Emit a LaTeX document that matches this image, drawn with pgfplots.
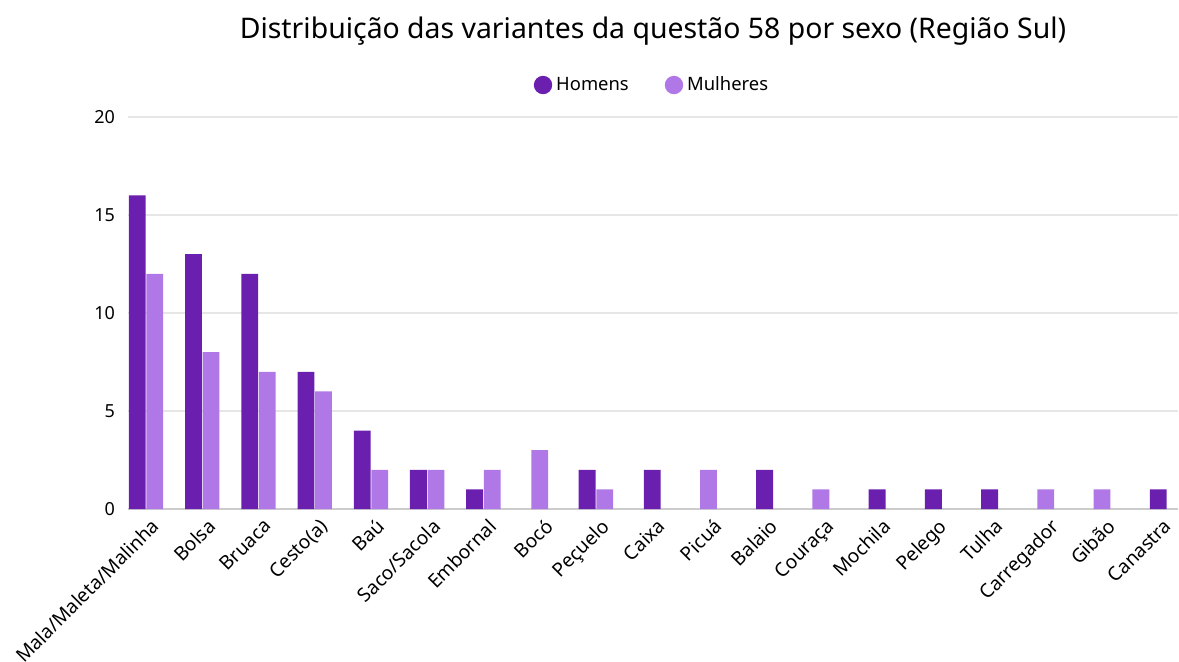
\documentclass[border=0pt]{standalone}
\usepackage{pgfplots}
\pgfplotsset{compat=1.18}
\usepackage{fontspec}
\setmainfont{Noto Sans}

\definecolor{homens}{RGB}{106,31,175}
\definecolor{mulheres}{RGB}{176,120,230}
\definecolor{gridc}{RGB}{230,230,230}

\begin{document}
\begin{tikzpicture}
\begin{axis}[
  scale only axis,
  width=525pt, height=196pt,
  ymin=0, ymax=20,
  xmin=-0.32, xmax=18.35,
  ytick={0,5,10,15,20},
  xtick={0,...,18},
  xticklabels={Mala/Maleta/Malinha,Bolsa,Bruaca,Cesto(a),Baú,Saco/Sacola,Embornal,Bocó,Peçuelo,Caixa,Picuá,Balaio,Couraça,Mochila,Pelego,Tulha,Carregador,Gibão,Canastra},
  xticklabel style={rotate=45, anchor=north east, font=\fontsize{9.6pt}{11pt}\selectfont, xshift=2pt, yshift=-1pt},
  yticklabel style={font=\fontsize{9pt}{10pt}\selectfont, xshift=-3pt},
  /pgf/number format/assume math mode=true,
  major tick length=0pt,
  axis line style={draw=none},
  ymajorgrids, grid style={gridc, line width=0.6pt},
  extra y ticks={0}, extra y tick labels={},
  extra y tick style={grid style={draw=black!20, line width=0.8pt}},
  ybar, bar width=8.4pt,
  title={Distribuição das variantes da questão 58 por sexo (Região Sul)},
  title style={at={(0.5,1)}, anchor=center, yshift=37pt, font=\fontsize{14.2pt}{16pt}\selectfont},
  legend style={at={(0.5,1)}, anchor=center, yshift=16pt, draw=none, fill=none,
    font=\fontsize{9.2pt}{10pt}\selectfont,
    /tikz/every even column/.append style={column sep=16pt}},
  legend columns=2,
  legend image code/.code={\fill[#1] (0pt,0pt) circle (4.6pt);},
]
\addplot[fill=homens, draw=none, bar shift=-4.4pt] coordinates {
(0,16) (1,13) (2,12) (3,7) (4,4) (5,2) (6,1) (8,2)};
\addplot[fill=mulheres, draw=none, bar shift=4.4pt] coordinates {
(0,12) (1,8) (2,7) (3,6) (4,2) (5,2) (6,2) (8,1)};
\addplot[fill=homens, draw=none, bar shift=0pt, forget plot] coordinates {
(9,2) (11,2) (13,1) (14,1) (15,1) (18,1)};
\addplot[fill=mulheres, draw=none, bar shift=0pt, forget plot] coordinates {
(7,3) (10,2) (12,1) (16,1) (17,1)};
\legend{Homens, Mulheres}
\end{axis}
\pgfresetboundingbox
\useasboundingbox (-64pt,-76pt) rectangle (525.5pt,254.5pt);
\end{tikzpicture}
\end{document}
